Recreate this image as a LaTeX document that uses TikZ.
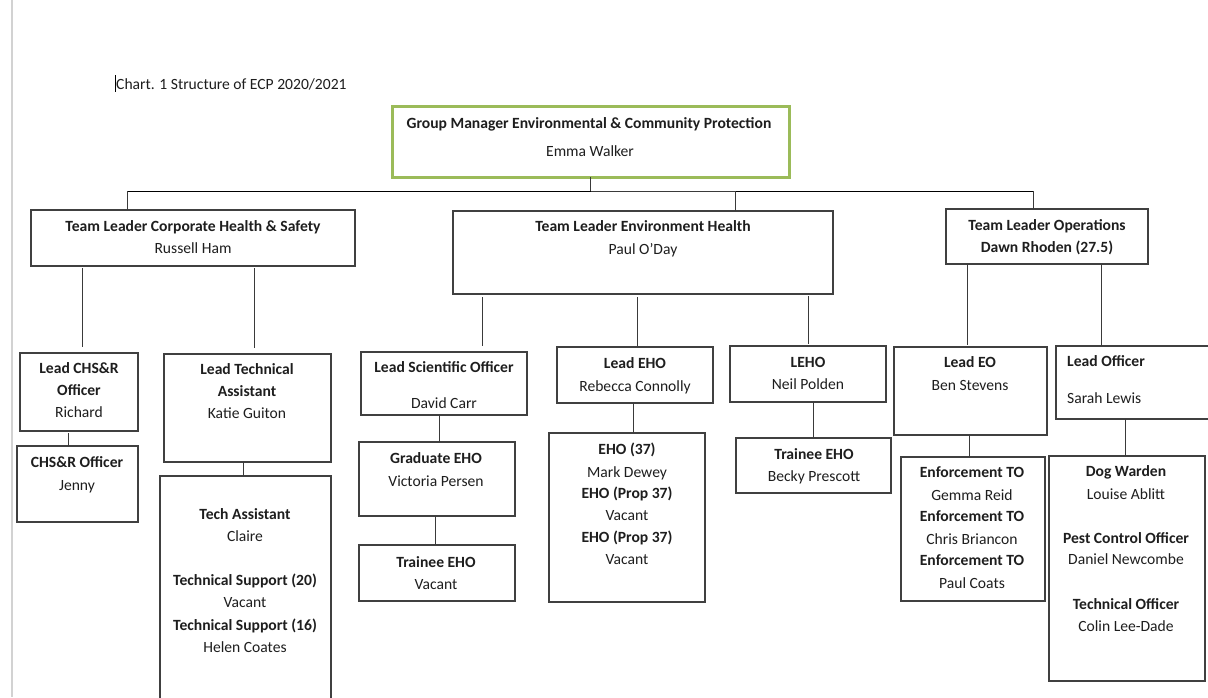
\documentclass[tikz,border=0pt]{standalone}
\usepackage{fontspec}
\setmainfont{Carlito}
\definecolor{boxc}{HTML}{404040}
\definecolor{linec}{HTML}{3A3A3A}
\definecolor{txtc}{HTML}{1E1E1E}
\definecolor{grn}{RGB}{155,187,89}
\newcommand\mkbox[6][]{\node[bx,#1,minimum width={#5-#3},minimum height={#6-#4}] (#2) at (#3,#4) {};}
\newcommand\tl[4]{\node[tx] (#1) at (#2,#3+5) {#4};}
\newcommand\tlb[4]{\node[tx] (#1) at (#2,#3+5) {\bfseries #4};}
\begin{document}
\begin{tikzpicture}[x=1pt,y=-1pt,
  bx/.style={draw=boxc,line width=1.3pt,inner sep=0pt,outer sep=0pt,anchor=north west,fill=white},
  tx/.style={anchor=base,inner sep=0pt,text=txtc,font=\fontsize{15.6}{18}\selectfont},
  cn/.style={draw=linec,line width=1pt}]
\useasboundingbox (0,0) rectangle (1208,697);
\fill[white] (0,0) rectangle (1208,697);
\draw[gray!35,line width=1.5pt] (12,0) -- (12,697);
% title
\node[tx,anchor=base west] (title) at (116,89) {Chart. 1 Structure of ECP 2020/2021};
\draw[black,line width=0.8pt] (115,75) -- (115,92);
% boxes
\mkbox[draw=grn,line width=3pt]{top}{392}{106}{789}{177}
\mkbox{tlchs}{31}{210}{355}{266}
\mkbox{tleh}{453}{211}{833}{294}
\mkbox{tlops}{946}{209}{1148}{264}
\mkbox{leadchs}{20}{353}{138}{431}
\mkbox{chso}{17}{446}{138}{522}
\mkbox{leadtech}{164}{354}{331}{462}
\mkbox{techasst}{160}{476}{331}{705}
\mkbox{leadsci}{361}{352}{527}{415}
\mkbox{grad}{359}{442}{515}{516}
\mkbox{trainA}{359}{545}{515}{601}
\mkbox{leadeho}{557}{347}{713}{403}
\mkbox{eho}{549}{433}{705}{602}
\mkbox{leho}{730}{346}{886}{402}
\mkbox{trainB}{736}{438}{891}{493}
\mkbox{leadeo}{894}{347}{1047}{435}
\mkbox{enf}{901}{457}{1045}{601}
\mkbox{leadoff}{1056}{346}{1214}{419}
\mkbox{dog}{1049}{456}{1205}{681}
% connectors
\coordinate (busL) at (127,191);
\coordinate (busR) at (1033,191);
\draw[cn] (top.south) -- (top.south |- busL);
\draw[black,line width=1pt] (busL) -- (busR);
\draw[cn] (busL) -- (tlchs.north -| busL);
\coordinate (xeh) at (735,0);
\draw[cn] (top.south |- busL) -| (tleh.north -| xeh);
\draw[cn] (busR) -- (tlops.north -| busR);
\coordinate (x1) at (82,0);
\draw[cn] ([yshift=-2pt]tlchs.south -| x1) -- ([yshift=6pt]leadchs.north -| x1);
\coordinate (x2) at (254,0);
\draw[cn] ([yshift=-2pt]tlchs.south -| x2) -- ([yshift=6pt]leadtech.north -| x2);
\coordinate (x3) at (68,0);
\draw[cn] ([yshift=-2pt]leadchs.south -| x3) -- (chso.north -| x3);
\coordinate (x4) at (243,0);
\draw[cn] (leadtech.south -| x4) -- (techasst.north -| x4);
\coordinate (x5) at (482,0);
\draw[cn] ([yshift=-3pt]tleh.south -| x5) -- ([yshift=6pt]leadsci.north -| x5);
\coordinate (x6) at (637,0);
\draw[cn] ([yshift=-3pt]tleh.south -| x6) -- ([yshift=1pt]leadeho.north -| x6);
\coordinate (x7) at (808,0);
\draw[cn] ([yshift=-2pt]tleh.south -| x7) -- ([yshift=2pt]leho.north -| x7);
\coordinate (x8) at (439,0);
\draw[cn] (leadsci.south -| x8) -- (grad.north -| x8);
\coordinate (x9) at (435,0);
\draw[cn] (grad.south -| x9) -- (trainA.north -| x9);
\coordinate (x10) at (633,0);
\draw[cn] (leadeho.south -| x10) -- (eho.north -| x10);
\coordinate (x11) at (813,0);
\draw[cn] (leho.south -| x11) -- (trainB.north -| x11);
\coordinate (x12) at (967,0);
\draw[cn] (tlops.south -| x12) -- ([yshift=2pt]leadeo.north -| x12);
\coordinate (x13) at (1101,0);
\draw[cn] (tlops.south -| x13) -- (leadoff.north -| x13);
\coordinate (x14) at (969,0);
\draw[cn] (leadeo.south -| x14) -- (enf.north -| x14);
\coordinate (x15) at (1125,0);
\draw[cn] (leadoff.south -| x15) -- (dog.north -| x15);
% texts
\tlb{topA}{589}{123}{Group Manager Environmental \& Community Protection}
\tl{topB}{590}{151}{Emma Walker}
\tlb{tlchsA}{193}{226}{Team Leader Corporate Health \& Safety}
\tl{tlchsB}{193}{248}{Russell Ham}
\tlb{tlehA}{643}{226}{Team Leader Environment Health}
\tl{tlehB}{643}{249}{Paul O’Day}
\tlb{tlopsA}{1047}{225}{Team Leader Operations}
\tlb{tlopsB}{1047}{247}{Dawn Rhoden (27.5)}
\tlb{leadchsA}{79}{368}{Lead CHS\&R}
\tlb{leadchsB}{79}{390}{Officer}
\tl{leadchsC}{79}{412}{Richard}
\tlb{chsoA}{77}{462}{CHS\&R Officer}
\tl{chsoB}{77}{485}{Jenny}
\tlb{leadtechA}{247}{369}{Lead Technical}
\tlb{leadtechB}{247}{391}{Assistant}
\tl{leadtechC}{247}{413}{Katie Guiton}
\tlb{taA}{245}{514}{Tech Assistant}
\tl{taB}{245}{536}{Claire}
\tlb{taC}{245}{580}{Technical Support (20)}
\tl{taD}{245}{602}{Vacant}
\tlb{taE}{245}{625}{Technical Support (16)}
\tl{taF}{245}{647}{Helen Coates}
\tlb{leadsciA}{444}{367}{Lead Scientific Officer}
\tl{leadsciB}{444}{403}{David Carr}
\tlb{gradA}{436}{458}{Graduate EHO}
\tl{gradB}{436}{481}{Victoria Persen}
\tlb{trainAA}{436}{562}{Trainee EHO}
\tl{trainAB}{436}{584}{Vacant}
\tlb{leadehoA}{635}{363}{Lead EHO}
\tl{leadehoB}{635}{386}{Rebecca Connolly}
\tlb{ehoA}{627}{449}{EHO (37)}
\tl{ehoB}{627}{472}{Mark Dewey}
\tlb{ehoC}{627}{493}{EHO (Prop 37)}
\tl{ehoD}{627}{515}{Vacant}
\tlb{ehoE}{627}{537}{EHO (Prop 37)}
\tl{ehoF}{627}{559}{Vacant}
\tlb{lehoA}{808}{362}{LEHO}
\tl{lehoB}{808}{384}{Neil Polden}
\tlb{trainBA}{814}{454}{Trainee EHO}
\tl{trainBB}{814}{476}{Becky Prescott}
\tlb{leadeoA}{970}{362}{Lead EO}
\tl{leadeoB}{970}{385}{Ben Stevens}
\tlb{enfA}{972}{472}{Enforcement TO}
\tl{enfB}{972}{495}{Gemma Reid}
\tlb{enfC}{972}{516}{Enforcement TO}
\tl{enfD}{972}{539}{Chris Briancon}
\tlb{enfE}{972}{560}{Enforcement TO}
\tl{enfF}{972}{583}{Paul Coats}
\node[tx,anchor=base west] (leadoffA) at (1067,366) {\bfseries Lead Officer};
\node[tx,anchor=base west] (leadoffB) at (1067,403) {Sarah Lewis};
\tlb{dogA}{1126}{471}{Dog Warden}
\tl{dogB}{1126}{494}{Louise Ablitt}
\tlb{dogC}{1126}{538}{Pest Control Officer}
\tl{dogD}{1126}{559}{Daniel Newcombe}
\tlb{dogE}{1126}{604}{Technical Officer}
\tl{dogF}{1126}{626}{Colin Lee-Dade}
\end{tikzpicture}
\end{document}
